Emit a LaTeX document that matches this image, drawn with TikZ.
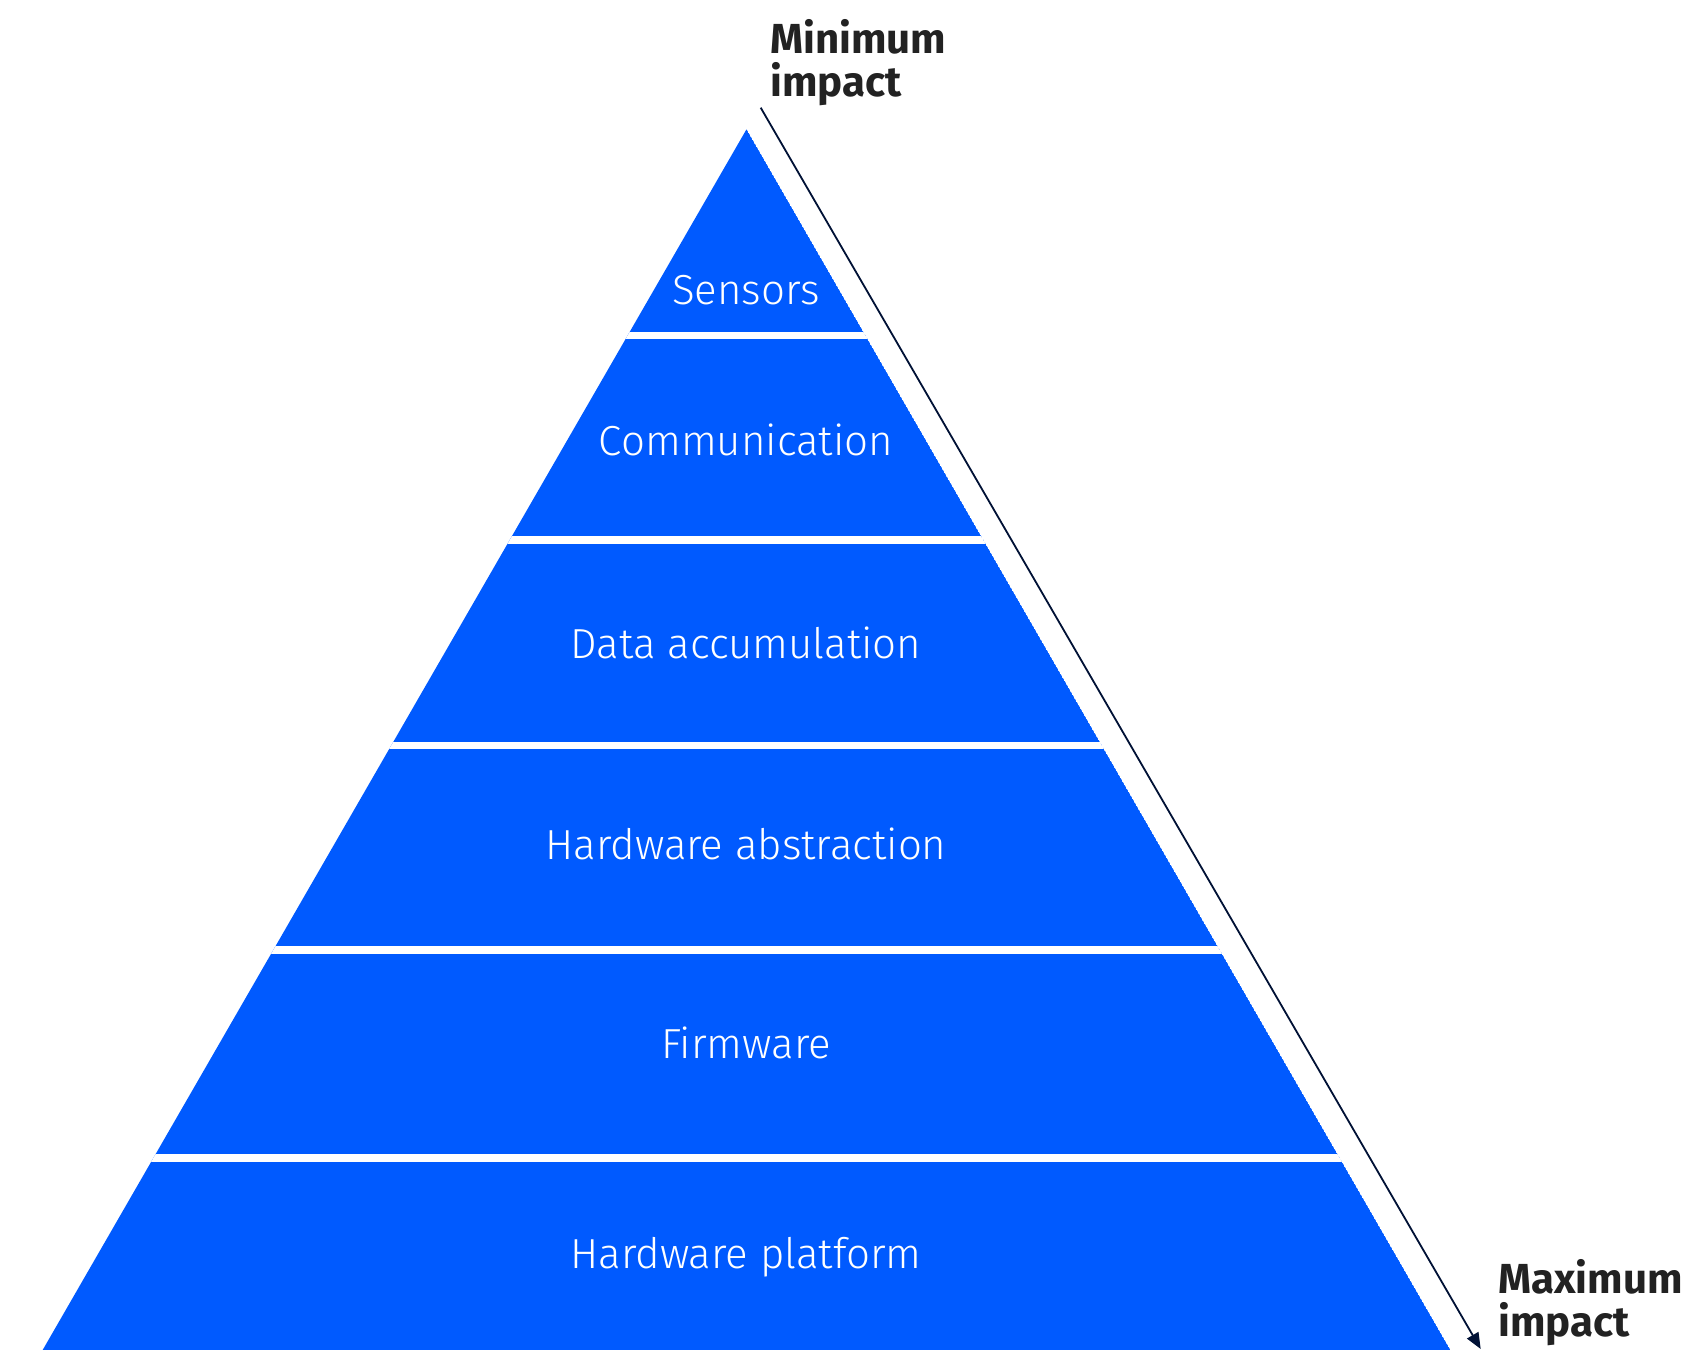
\documentclass[tikz,border=0pt]{standalone}
\usepackage{fontspec}
\setmainfont{Fira Sans}
\newfontfamily\layerfont{Fira Sans Light}
\usetikzlibrary{arrows.meta}
\definecolor{pyrblue}{HTML}{005AFF}
\definecolor{arrownavy}{HTML}{001135}
\definecolor{labeldark}{HTML}{222222}
\begin{document}
\begin{tikzpicture}[x=1pt,y=-1pt,
  pyr/.style={fill=pyrblue},
  gap/.style={draw=white,line width=7.3pt},
  layer/.style={text=white,anchor=base,inner sep=0pt,font=\layerfont\fontsize{42}{50}\selectfont},
  extreme/.style={text=labeldark,anchor=base west,align=left,inner sep=0pt,font=\bfseries\fontsize{42}{43}\selectfont},
  impact/.style={draw=arrownavy,line width=1.8pt,-{Triangle[length=16pt,width=13pt]}}]
\useasboundingbox (0,0) rectangle (1691,1349);
% pyramid outline
\coordinate (apex) at (746.5,129.3);
\coordinate (bl) at (41.5,1352);
\coordinate (br) at (1451.5,1352);
\begin{scope}
  \clip (apex) -- (bl) -- (br) -- cycle;
  \fill[pyr] (apex) -- (bl) -- (br) -- cycle;
  % white cuts between the layers
  \foreach \y in {335.5,540,745.7,950,1158}
    \draw[gap] (0,\y) -- (1691,\y);
\end{scope}
% layer names
\node[layer] (sensors) at (746,304) {Sensors};
\node[layer] (comm) at (746,455) {Communication};
\node[layer] (data) at (746,658) {Data accumulation};
\node[layer] (hwabs) at (746,859) {Hardware abstraction};
\node[layer] (fw) at (746,1058) {Firmware};
\node[layer] (hwplat) at (746,1268) {Hardware platform};
% impact scale (base anchor sits on the last line)
\node[extreme] (minimp) at (770,96.7) {Minimum\\impact};
\node[extreme] (maximp) at (1498,1336) {Maximum\\impact};
\coordinate (scaletop) at (760.7,107.7);
\coordinate (scalebot) at (1480.7,1349);
\draw[impact] (scaletop) -- (scalebot);
\end{tikzpicture}
\end{document}
